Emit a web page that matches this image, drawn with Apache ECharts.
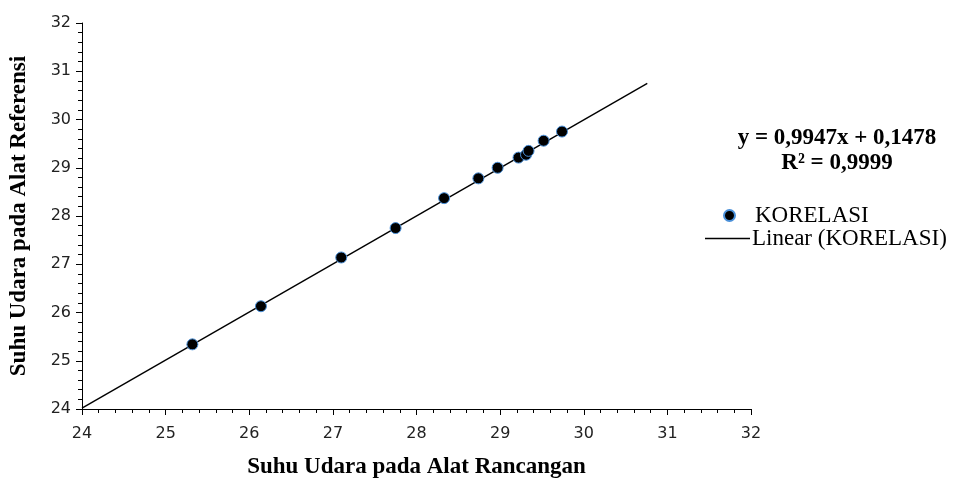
<!DOCTYPE html>
<html>
<head>
<meta charset="utf-8">
<script src="https://cdn.jsdelivr.net/npm/echarts@6/dist/echarts.min.js"></script>
<style>html,body{margin:0;padding:0;background:#fff}#c{width:955px;height:480px}</style>
</head>
<body>
<div id="c"></div>
<script>
var xValues = [25.32, 26.14, 27.10, 27.75, 28.33, 28.74, 28.97, 29.22, 29.31, 29.34, 29.52, 29.74];
var yValues = [25.34, 26.13, 27.14, 27.75, 28.37, 28.78, 29.00, 29.21, 29.27, 29.35, 29.56, 29.75];
var trendX = [24, 30.76];
var trendY = [24.02, 30.75];
var axisTicks = [24, 25, 26, 27, 28, 29, 30, 31, 32];
var equationLines = ['y = 0,9947x + 0,1478', 'R² = 0,9999'];
var seriesNames = ['KORELASI', 'Linear (KORELASI)'];

var chart = echarts.init(document.getElementById('c'));
var pts = xValues.map(function (x, i) { return [x, yValues[i]]; });
var trend = trendX.map(function (x, i) { return [x, trendY[i]]; });
var serif = 'Liberation Serif';
var axisCommon = {
  min: axisTicks[0], max: axisTicks[axisTicks.length - 1], interval: 1,
  splitLine: { show: false },
  axisLine: { show: true, onZero: false, lineStyle: { color: '#000', width: 1 } },
  axisTick: { show: true, inside: false, length: 6, lineStyle: { color: '#000' } },
  minorTick: { show: true, splitNumber: 5, length: 4, lineStyle: { color: '#000' } },
  axisLabel: { fontFamily: 'DejaVu Sans', fontSize: 16, color: '#222', margin: 12 },
  nameLocation: 'middle',
  nameTextStyle: { fontFamily: serif, fontWeight: 'bold', fontSize: 23, color: '#000' }
};
chart.setOption({
  animation: false,
  grid: { left: 82, right: 204, top: 23, bottom: 71, containLabel: false, outerBoundsMode: 'none' },
  xAxis: Object.assign({}, axisCommon, { type: 'value', name: 'Suhu Udara pada Alat Rancangan', nameGap: 47,
    axisLabel: Object.assign({}, axisCommon.axisLabel, { margin: 17 }) }),
  yAxis: Object.assign({}, axisCommon, { type: 'value', name: 'Suhu Udara pada Alat Referensi', nameGap: 51,
    axisLabel: Object.assign({}, axisCommon.axisLabel, { margin: 11 }) }),
  legend: [{
    data: [seriesNames[0]], orient: 'vertical', left: 718, top: 199,
    itemWidth: 11, itemHeight: 11, itemGap: 0,
    textStyle: { fontFamily: serif, fontSize: 23, color: '#000', padding: [0, 0, 0, 15] }
  }, {
    data: [{ name: seriesNames[1], icon: 'rect' }], orient: 'vertical', left: 700, top: 222,
    itemWidth: 45, itemHeight: 1.5, itemGap: 0,
    textStyle: { fontFamily: serif, fontSize: 23, color: '#000', padding: [0, 0, 0, -3] }
  }],
  graphic: [{
    type: 'text', x: 837, y: 138,
    style: { text: equationLines[0], fontFamily: serif, fontWeight: 'bold', fontSize: 23, fill: '#000', align: 'center', verticalAlign: 'middle' }
  }, {
    type: 'text', x: 837, y: 163,
    style: { text: equationLines[1], fontFamily: serif, fontWeight: 'bold', fontSize: 23, fill: '#000', align: 'center', verticalAlign: 'middle' }
  }],
  series: [{
    name: seriesNames[1], type: 'line', data: trend, symbol: 'none', z: 2,
    lineStyle: { color: '#000', width: 1.4 }, itemStyle: { color: '#000' }
  }, {
    name: seriesNames[0], type: 'scatter', data: pts, symbolSize: 11, z: 3,
    itemStyle: { color: '#000', borderColor: '#4a90d9', borderWidth: 1, opacity: 1 }
  }]
});
</script>
</body>
</html>
